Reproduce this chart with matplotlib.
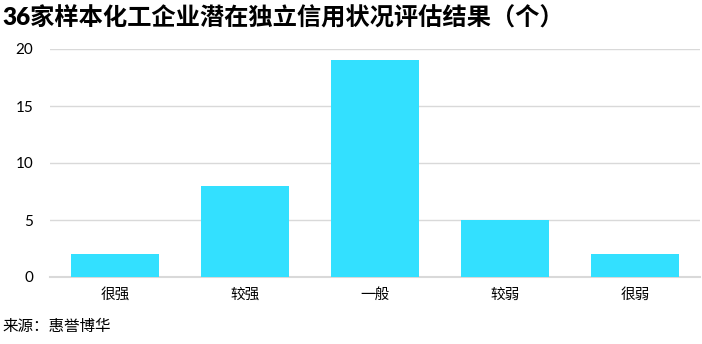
import matplotlib
matplotlib.use("Agg")
import matplotlib.pyplot as plt
import numpy as np

plt.rcParams['font.family'] = ['Lato', 'Noto Sans CJK SC', 'DejaVu Sans']

# data
categories = ["很强", "较强", "一般", "较弱", "很弱"]
counts = [2, 8, 19, 5, 2]
y_ticks = [0, 5, 10, 15, 20]

fig = plt.figure(figsize=(7.02, 3.44), dpi=100)
ax = fig.add_axes([50 / 702, 1 - 277 / 344, 650 / 702, 228 / 344])

x = np.arange(len(categories))
ax.bar(x, counts, width=0.67, color="#33E0FF", zorder=3)

ax.set_xlim(-0.5, 4.5)
ax.set_ylim(0, 20)
ax.set_yticks(y_ticks)
ax.set_xticks(x)
ax.set_xticklabels(categories, fontsize=10.5)
ax.tick_params(axis='y', labelsize=11, length=0, pad=12)
ax.tick_params(axis='x', length=0, pad=8)
ax.yaxis.grid(True, color="#D9D9D9", linewidth=1, zorder=0)
for s in ["top", "right", "left"]:
    ax.spines[s].set_visible(False)
ax.spines["bottom"].set_color("#D9D9D9")
ax.spines["bottom"].set_linewidth(1.5)

fig.text(2 / 702, 1 - 18 / 344, "36家样本化工企业潜在独立信用状况评估结果（个）",
         fontsize=17.5, fontweight="heavy", va="center", ha="left")
fig.text(2 / 702, 1 - 327 / 344, "来源：惠誉博华", fontsize=11.2, va="center", ha="left")

fig.savefig("out.png", dpi=100)
